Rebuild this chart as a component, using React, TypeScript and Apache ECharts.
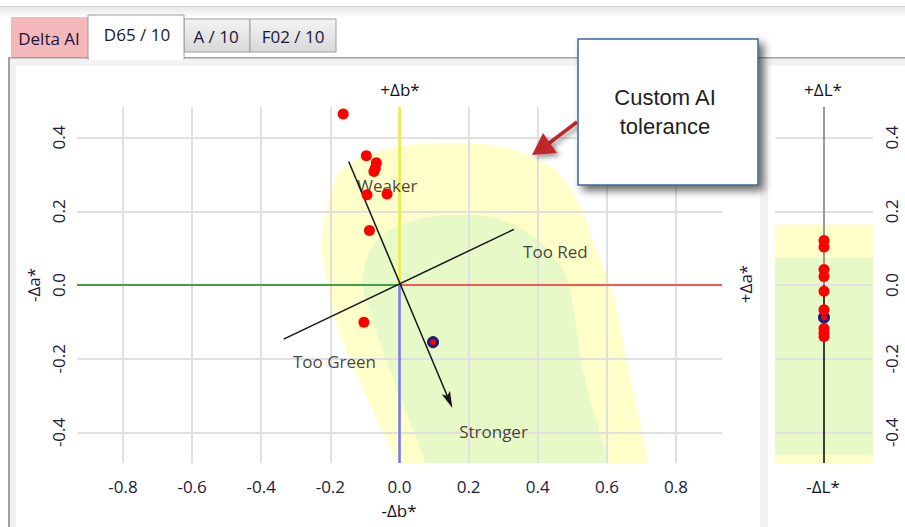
import { useEffect, useRef } from 'react';
import * as echarts from 'echarts';

// Samples: Δa* (horizontal), Δb* (vertical), ΔL*
const sampleDa = [-0.163, -0.096, -0.067, -0.07, -0.074, -0.094, -0.036, -0.087, -0.103];
const sampleDb = [0.464, 0.351, 0.332, 0.317, 0.308, 0.245, 0.247, 0.148, -0.101];
const sampleDL = [0.121, 0.103, 0.042, 0.023, -0.017, -0.067, -0.118, -0.13, -0.14];
const standardDa = [0.097];
const standardDb = [-0.155];
const standardDL = [-0.088];

// axis ranges
const aRange = [-0.933, 0.933];
const bRange = [-0.483, 0.483];
const lRange = [-0.483, 0.483];

// tolerance outlines (Δa*, Δb*)
const outerTolerance: number[][] = [
  [-0.224, 0.122], [-0.211, 0.014], [-0.185, -0.095], [-0.142, -0.204], [-0.078, -0.339],
  [-0.006, -0.483], [0.075, -0.692], [0.761, -0.692], [0.72, -0.483], [0.664, -0.236],
  [0.615, -0.014], [0.57, 0.095], [0.527, 0.204], [0.46, 0.304], [0.379, 0.35],
  [0.284, 0.377], [0.168, 0.385], [0.069, 0.383], [-0.046, 0.366], [-0.142, 0.331],
  [-0.191, 0.277],
];
const innerTolerance: number[][] = [
  [-0.107, 0.0], [-0.078, -0.095], [-0.035, -0.212], [0.017, -0.339], [0.075, -0.483],
  [0.133, -0.692], [0.64, -0.692], [0.602, -0.483], [0.532, -0.236], [0.486, 0.014],
  [0.437, 0.087], [0.359, 0.149], [0.263, 0.185], [0.168, 0.19], [0.069, 0.182],
  [-0.026, 0.149], [-0.084, 0.095], [-0.104, 0.033],
];
// ΔL* tolerance bands [top, bottom]
const lToleranceOuter = [0.164, -0.483];
const lToleranceInner = [0.073, -0.46];

// direction axes [a1, b1, a2, b2, arrow]
const directionAxes = [
  [-0.147, 0.335, 0.153, -0.334, 1],
  [-0.335, -0.147, 0.331, 0.151, 0],
];
const annotationTexts = ['Weaker', 'Too Red', 'Too Green', 'Stronger'];
const annotationA = [-0.035, 0.451, -0.188, 0.272];
const annotationB = [0.271, 0.09, -0.208, -0.398];

const tabLabels = ['Delta AI', 'D65 / 10', 'A / 10', 'F02 / 10'];

const FONT = "'Segoe UI', 'Open Sans', sans-serif";
const LABEL_COLOR = '#221a38';
const GRID_COLOR = '#e0e0e0';

function txt(text: string, x: number, y: number, size: number, color: string, extra: any = {}) {
  return {
    type: 'text',
    x,
    y,
    z: extra.z ?? 10,
    rotation: extra.rotation ?? 0,
    style: {
      text,
      fill: color,
      font: `${size}px ${extra.family ?? FONT}`,
      fontSize: size,
      fontFamily: extra.family ?? FONT,
      align: 'center',
      verticalAlign: 'middle',
      textAlign: 'center',
      textVerticalAlign: 'middle',
    },
  };
}

export default function App() {
  const ref = useRef<HTMLDivElement>(null);
  useEffect(() => {
    if (!ref.current) return;
    const chart = echarts.init(ref.current, null, { renderer: 'svg' });

    const tabGrad = new echarts.graphic.LinearGradient(0, 0, 0, 1, [
      { offset: 0, color: '#f3f3f3' },
      { offset: 1, color: '#d8d8d8' },
    ]);
    const topGrad = new echarts.graphic.LinearGradient(0, 0, 0, 1, [
      { offset: 0, color: '#e8e8e8' },
      { offset: 1, color: '#fbfbfb' },
    ]);

    const graphics: any[] = [
      { type: 'rect', z: -30, shape: { x: 0, y: 0, width: 905, height: 527 }, style: { fill: '#ffffff' } },
      { type: 'rect', z: -29, shape: { x: 0, y: 6, width: 905, height: 1 }, style: { fill: '#d2d2d2' } },
      { type: 'rect', z: -29, shape: { x: 0, y: 7, width: 905, height: 9 }, style: { fill: topGrad } },
      { type: 'rect', z: -29, shape: { x: 8, y: 57, width: 897, height: 470 }, style: { fill: '#f2f2f2' } },
      { type: 'rect', z: -28, shape: { x: 8, y: 57, width: 2, height: 470 }, style: { fill: '#a2a2a2' } },
      { type: 'rect', z: -28, shape: { x: 8, y: 57, width: 897, height: 1.5 }, style: { fill: '#a2a2a2' } },
      { type: 'rect', z: -28, shape: { x: 16, y: 66, width: 744, height: 461 }, style: { fill: '#ffffff' } },
      { type: 'rect', z: -28, shape: { x: 768, y: 66, width: 137, height: 461 }, style: { fill: '#ffffff' } },
      // tabs
      { type: 'rect', z: -20, shape: { x: 11, y: 17, width: 77, height: 40 }, style: { fill: '#f5b7ba' } },
      { type: 'rect', z: -20, shape: { x: 184, y: 19, width: 66, height: 33 }, style: { fill: tabGrad, stroke: '#9c9c9c', lineWidth: 1 } },
      { type: 'rect', z: -20, shape: { x: 250, y: 19, width: 86, height: 33 }, style: { fill: tabGrad, stroke: '#9c9c9c', lineWidth: 1 } },
      { type: 'rect', z: -19, shape: { x: 88, y: 15, width: 96, height: 44 }, style: { fill: '#ffffff', stroke: '#9c9c9c', lineWidth: 1 } },
      { type: 'rect', z: -18, shape: { x: 89, y: 55, width: 94.5, height: 5 }, style: { fill: '#ffffff' } },
      txt(tabLabels[0], 49, 38, 17, '#16163a'),
      txt(tabLabels[1], 137, 34, 17, '#16163a'),
      txt(tabLabels[2], 216, 36, 17, '#16163a'),
      txt(tabLabels[3], 293, 36, 17, '#16163a'),
      // axis end names
      txt('+Δb*', 400, 89, 17, '#111122'),
      txt('-Δb*', 399, 510, 17, '#111122'),
      txt('-Δa*', 33, 285, 17, '#24163a', { rotation: Math.PI / 2 }),
      txt('+Δa*', 745, 284, 17, '#24163a', { rotation: Math.PI / 2 }),
      txt('+ΔL*', 823, 89, 17, '#111122'),
      txt('-ΔL*', 823, 486, 17, '#111122'),
      // callout
      {
        type: 'line', z: 49, shape: { x1: 577, y1: 122, x2: 548, y2: 144 },
        style: { stroke: '#c0262c', lineWidth: 3.5, shadowBlur: 5, shadowOffsetX: 3, shadowOffsetY: 3, shadowColor: 'rgba(0,0,0,0.4)' },
      },
      {
        type: 'polygon', z: 49, shape: { points: [[532, 155], [543, 133], [557, 153]] },
        style: { fill: '#c0262c', shadowBlur: 5, shadowOffsetX: 3, shadowOffsetY: 3, shadowColor: 'rgba(0,0,0,0.4)' },
      },
      {
        type: 'rect', z: 50, shape: { x: 578, y: 39, width: 180, height: 146 },
        style: { fill: '#ffffff', stroke: '#3d6594', lineWidth: 1.5, shadowBlur: 8, shadowOffsetX: 5, shadowOffsetY: 5, shadowColor: 'rgba(0,0,0,0.6)' },
      },
      txt('Custom AI', 665, 97, 22, '#222222', { z: 51, family: "'Liberation Sans', Arial, sans-serif" }),
      txt('tolerance', 665, 126, 22, '#222222', { z: 51, family: "'Liberation Sans', Arial, sans-serif" }),
    ];

    const polygonRender = (pts: number[][], fill: string) => (params: any, api: any) => {
      if (params.dataIndex !== 0) return null;
      return {
        type: 'polygon',
        shape: { points: pts.map((p) => api.coord(p)), smooth: 0.35 },
        style: { fill },
      };
    };

    const option: any = {
      animation: false,
      graphic: { elements: graphics },
      grid: [
        { left: 77, top: 107, width: 645, height: 356 },
        { left: 775, top: 107, width: 98, height: 356 },
      ],
      xAxis: [
        {
          type: 'value', gridIndex: 0, min: aRange[0], max: aRange[1], splitNumber: 9, z: 1,
          axisLine: { show: false }, axisTick: { show: false },
          axisLabel: {
            showMinLabel: false, showMaxLabel: false, margin: 15, fontSize: 17, fontFamily: FONT,
            color: LABEL_COLOR, formatter: (v: number) => v.toFixed(1),
          },
          splitLine: { show: true, showMinLine: false, showMaxLine: false, lineStyle: { color: GRID_COLOR, width: 2 } },
        },
        { type: 'value', gridIndex: 1, min: -1, max: 1, show: false, splitLine: { show: false } },
      ],
      yAxis: [
        {
          type: 'value', gridIndex: 0, min: bRange[0], max: bRange[1], splitNumber: 5, z: 1,
          axisLine: { show: false }, axisTick: { show: false },
          axisLabel: {
            rotate: 90, showMinLabel: false, showMaxLabel: false, margin: 10, fontSize: 17, fontFamily: FONT,
            color: LABEL_COLOR, formatter: (v: number) => v.toFixed(1),
          },
          splitLine: { show: true, showMinLine: false, showMaxLine: false, lineStyle: { color: GRID_COLOR, width: 2 } },
        },
        {
          type: 'value', gridIndex: 1, position: 'right', min: lRange[0], max: lRange[1], splitNumber: 5, z: 1,
          axisLine: { show: false }, axisTick: { show: false },
          axisLabel: {
            rotate: 90, showMinLabel: false, showMaxLabel: false, margin: 10, fontSize: 17, fontFamily: FONT,
            color: LABEL_COLOR, formatter: (v: number) => v.toFixed(1),
          },
          splitLine: { show: true, showMinLine: false, showMaxLine: false, lineStyle: { color: GRID_COLOR, width: 2 } },
        },
      ],
      series: [
        {
          type: 'custom', xAxisIndex: 0, yAxisIndex: 0, z: 0, clip: true, silent: true,
          data: outerTolerance, renderItem: polygonRender(outerTolerance, '#ffffc9'),
        },
        {
          type: 'custom', xAxisIndex: 0, yAxisIndex: 0, z: 0.5, clip: true, silent: true,
          data: innerTolerance, renderItem: polygonRender(innerTolerance, '#e6f9c6'),
        },
        // colored axes
        { type: 'line', xAxisIndex: 0, yAxisIndex: 0, symbol: 'none', silent: true, z: 2,
          data: [[aRange[0], 0], [0, 0]], lineStyle: { color: '#138a13', width: 1.6 } },
        { type: 'line', xAxisIndex: 0, yAxisIndex: 0, symbol: 'none', silent: true, z: 2,
          data: [[0, 0], [aRange[1], 0]], lineStyle: { color: '#ff2a2a', width: 1.6 } },
        { type: 'line', xAxisIndex: 0, yAxisIndex: 0, symbol: 'none', silent: true, z: 2,
          data: [[0, 0], [0, bRange[1]]], lineStyle: { color: '#eeee3a', width: 2.5 } },
        { type: 'line', xAxisIndex: 0, yAxisIndex: 0, symbol: 'none', silent: true, z: 2,
          data: [[0, 0], [0, bRange[0]]], lineStyle: { color: '#7777f2', width: 2.5 } },
        // direction axes
        {
          type: 'custom', xAxisIndex: 0, yAxisIndex: 0, z: 3, silent: true,
          encode: { x: [0, 2], y: [1, 3] },
          data: directionAxes,
          renderItem: (params: any, api: any) => {
            const d = directionAxes[params.dataIndex];
            const p1 = api.coord([d[0], d[1]]);
            const p2 = api.coord([d[2], d[3]]);
            const dx = p2[0] - p1[0];
            const dy = p2[1] - p1[1];
            const len = Math.hypot(dx, dy);
            const ux = dx / len;
            const uy = dy / len;
            const children: any[] = [{
              type: 'line',
              shape: { x1: p1[0], y1: p1[1], x2: d[4] ? p2[0] - ux * 8 : p2[0], y2: d[4] ? p2[1] - uy * 8 : p2[1] },
              style: { stroke: '#151515', lineWidth: 1.5 },
            }];
            if (d[4]) {
              const hl = 17, hw = 4.5;
              const bx = p2[0] - ux * hl, by = p2[1] - uy * hl;
              children.push({
                type: 'polygon',
                shape: {
                  points: [
                    [p2[0], p2[1]],
                    [bx - uy * hw, by + ux * hw],
                    [p2[0] - ux * 13, p2[1] - uy * 13],
                    [bx + uy * hw, by - ux * hw],
                  ],
                },
                style: { fill: '#151515' },
              });
            }
            return { type: 'group', children };
          },
        },
        // annotations
        {
          type: 'scatter', xAxisIndex: 0, yAxisIndex: 0, symbolSize: 0, silent: true, z: 4,
          data: annotationTexts.map((t, i) => ({ name: t, value: [annotationA[i], annotationB[i]] })),
          label: { show: true, position: 'inside', formatter: '{b}', fontSize: 17, fontFamily: FONT, color: '#111111' },
        },
        // samples
        {
          type: 'scatter', xAxisIndex: 0, yAxisIndex: 0, symbolSize: 11, z: 5, silent: true,
          data: sampleDa.map((a, i) => [a, sampleDb[i]]),
          itemStyle: { color: '#ff0000', opacity: 1 },
        },
        {
          type: 'scatter', xAxisIndex: 0, yAxisIndex: 0, symbolSize: 9, z: 6, silent: true,
          data: standardDa.map((a, i) => [a, standardDb[i]]),
          itemStyle: { color: '#ff0000', borderColor: '#1e1e78', borderWidth: 3, opacity: 1 },
        },
        // right panel: L tolerance bands
        {
          type: 'custom', xAxisIndex: 1, yAxisIndex: 1, z: 0, clip: true, silent: true,
          data: [[0, lToleranceOuter[0], lToleranceOuter[1]], [1, lToleranceInner[0], lToleranceInner[1]]],
          encode: { y: [1, 2] },
          renderItem: (params: any, api: any) => {
            const top = api.value(1);
            const bottom = api.value(2);
            const p1 = api.coord([-1, top]);
            const p2 = api.coord([1, bottom]);
            return {
              type: 'rect',
              shape: { x: p1[0], y: p1[1], width: p2[0] - p1[0], height: p2[1] - p1[1] },
              style: { fill: params.dataIndex === 0 ? '#ffffc9' : '#e6f9c6' },
            };
          },
        },
        { type: 'line', xAxisIndex: 1, yAxisIndex: 1, symbol: 'none', silent: true, z: 2,
          data: [[0, 0], [0, lRange[1]]], lineStyle: { color: '#7a7a7a', width: 1.5 } },
        { type: 'line', xAxisIndex: 1, yAxisIndex: 1, symbol: 'none', silent: true, z: 2,
          data: [[0, 0], [0, lRange[0]]], lineStyle: { color: '#000000', width: 1.5 } },
        {
          type: 'scatter', xAxisIndex: 1, yAxisIndex: 1, symbolSize: 11, z: 5, silent: true,
          data: sampleDL.map((l) => [0, l]),
          itemStyle: { color: '#ff0000', opacity: 1 },
        },
        {
          type: 'scatter', xAxisIndex: 1, yAxisIndex: 1, symbolSize: 9, z: 4, silent: true,
          data: standardDL.map((l) => [0, l]),
          itemStyle: { color: '#ff0000', borderColor: '#1e1e78', borderWidth: 3, opacity: 1 },
        },
      ],
    };
    chart.setOption(option);
    return () => chart.dispose();
  }, []);

  return (
    <div
      ref={ref}
      style={{ position: 'fixed', left: 0, top: 0, width: 905, height: 527, background: '#ffffff' }}
    />
  );
}
